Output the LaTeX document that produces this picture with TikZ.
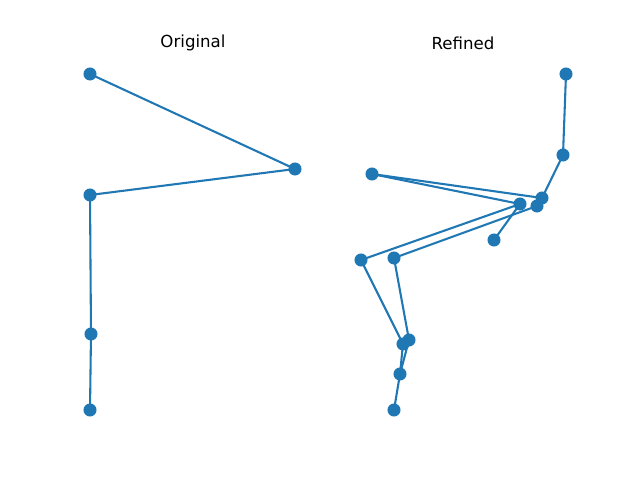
\documentclass[tikz,border=0pt]{standalone}
\usepackage{fontspec}
\setmainfont{DejaVu Sans}
\usepackage{xcolor}
\usepackage{tikz}
\definecolor{mplblue}{HTML}{1F77B4}

\begin{document}
\begin{tikzpicture}[
    x=0.01in, y=-0.01in,
    every node/.style={font=\fontsize{12pt}{14pt}\selectfont},
    pt/.style={circle, fill=mplblue, inner sep=0pt, minimum size=9.4pt},
    edge/.style={draw=mplblue, line width=1.5pt, line cap=round}
]
\useasboundingbox (0,0) rectangle (640,480);

\node (tori) at (193,43) {Original};
\node (tref) at (463,43) {Refined};

% original joints
\coordinate (o1) at (90,74);
\coordinate (o2) at (295,169);
\coordinate (o3) at (90,195);
\coordinate (o4) at (91,334);
\coordinate (o5) at (90,410);

% refined joints
\coordinate (r1)  at (566,74);
\coordinate (r2)  at (563,155);
\coordinate (r3)  at (542,198);
\coordinate (r4)  at (537,206);
\coordinate (r5)  at (520,204);
\coordinate (r6)  at (372,174);
\coordinate (r7)  at (494,240);
\coordinate (r8)  at (361,260);
\coordinate (r9)  at (394,258);
\coordinate (r10) at (409,340);
\coordinate (r11) at (403,344);
\coordinate (r12) at (400,374);
\coordinate (r13) at (394,410);

\draw[edge] (o1) -- (o2) -- (o3) -- (o4) -- (o5);

\draw[edge] (r1) -- (r2) -- (r3);
\draw[edge] (r6) -- (r3);
\draw[edge] (r6) -- (r5);
\draw[edge] (r7) -- (r5);
\draw[edge] (r8) -- (r5);
\draw[edge] (r9) -- (r4);
\draw[edge] (r8) -- (r11) -- (r12);
\draw[edge] (r9) -- (r10) -- (r12);
\draw[edge] (r12) -- (r13);

\foreach \p in {o1,o2,o3,o4,o5}
  \node[pt] (m\p) at (\p) {};
\foreach \p in {r1,r2,r3,r4,r5,r6,r7,r8,r9,r10,r11,r12,r13}
  \node[pt] (m\p) at (\p) {};
\end{tikzpicture}
\end{document}
